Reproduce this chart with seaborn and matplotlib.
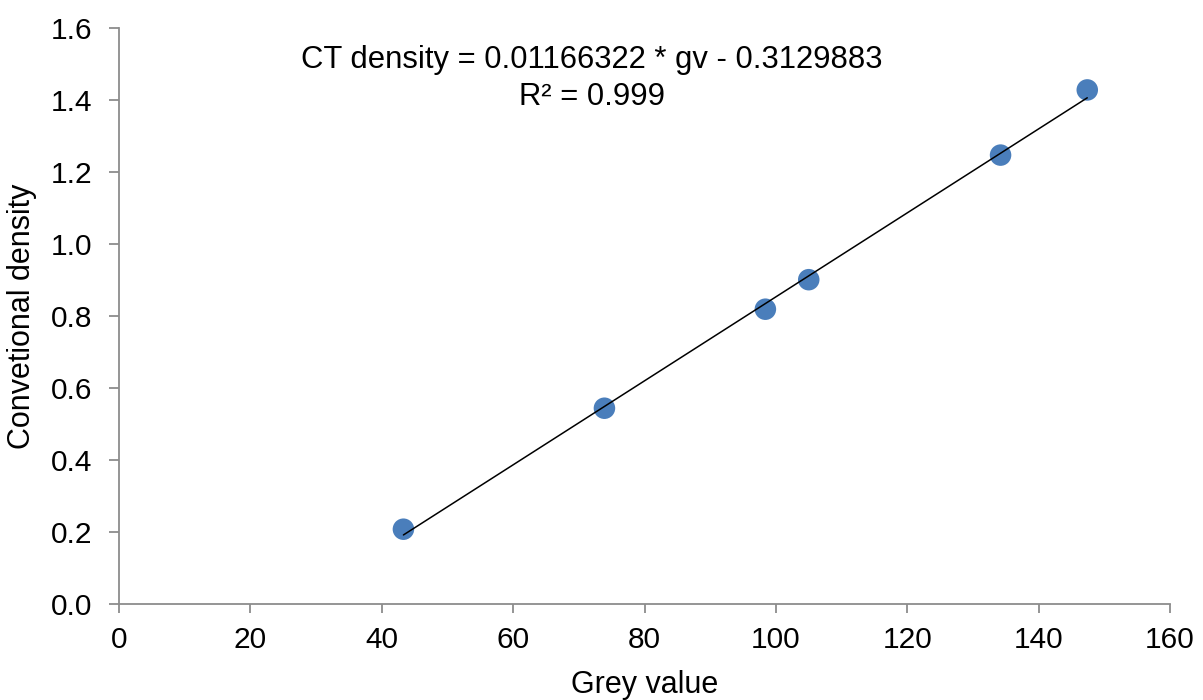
import numpy as np
import pandas as pd
import matplotlib
matplotlib.use("Agg")
import matplotlib.pyplot as plt
import seaborn as sns

# Calibration samples: grey value vs conventional density
grey_value = [43.3, 73.9, 98.4, 105.0, 134.2, 147.4]
density = [0.208, 0.544, 0.819, 0.901, 1.247, 1.428]

# Fitted calibration line
slope = 0.01166322
intercept = -0.3129883
r_squared = 0.999

x_ticks = [0, 20, 40, 60, 80, 100, 120, 140, 160]
y_ticks = [0.0, 0.2, 0.4, 0.6, 0.8, 1.0, 1.2, 1.4, 1.6]

sns.set_theme(style="white")
plt.rcParams["font.family"] = ["Liberation Sans", "DejaVu Sans"]

fig = plt.figure(figsize=(12.03, 7.0), dpi=100)
ax = fig.add_axes([0.0989, 0.137, 0.8737, 0.823])

pts = pd.DataFrame({"gv": grey_value, "density": density})
fit_x = np.array([min(grey_value), max(grey_value)])
fit = pd.DataFrame({"gv": fit_x, "density": slope * fit_x + intercept})

sns.scatterplot(data=pts, x="gv", y="density", ax=ax, s=240,
                color="#4a7ebb", edgecolor="none", zorder=2)
sns.lineplot(data=fit, x="gv", y="density", ax=ax, color="black",
             linewidth=1.1, zorder=3)

ax.set_xlim(0, 160)
ax.set_ylim(0, 1.6)
ax.set_xticks(x_ticks)
ax.set_yticks(y_ticks)
ax.set_yticklabels([f"{v:.1f}" for v in y_ticks])
ax.set_xticklabels([str(v) for v in x_ticks])

for side in ["top", "right"]:
    ax.spines[side].set_visible(False)
for side in ["left", "bottom"]:
    ax.spines[side].set_color("#8c8c8c")
    ax.spines[side].set_linewidth(1.3)

ax.tick_params(axis="both", which="major", direction="out", color="#8c8c8c",
               width=1.3, labelsize=21.5, labelcolor="black",
               bottom=True, left=True)
ax.tick_params(axis="y", length=7, pad=12)
ax.tick_params(axis="x", length=6.5, pad=9)

ax.set_xlabel("Grey value", fontsize=22, color="black", labelpad=12)
ax.set_ylabel("Convetional density", fontsize=22, color="black", labelpad=10)

ax.text(72, 1.46,
        f"CT density = {slope} * gv - {abs(intercept)}\nR² = {r_squared}",
        ha="center", va="center", multialignment="center",
        fontsize=22.3, color="black", linespacing=1.3)

fig.savefig("out.png", dpi=100)
